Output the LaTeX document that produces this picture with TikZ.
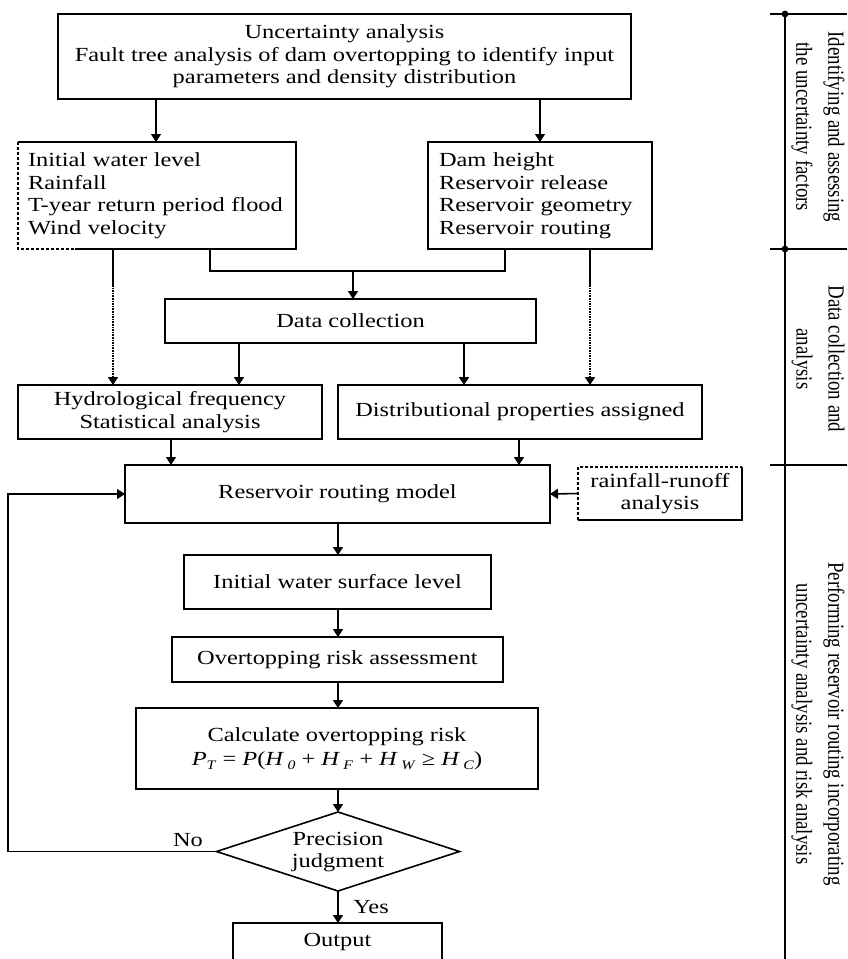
\documentclass[tikz,border=0pt]{standalone}
\usepackage{fontspec}
\setmainfont{Liberation Serif}[FakeStretch=1.22]
\newfontfamily\rotfont{Liberation Serif}[FakeStretch=0.82]
\usetikzlibrary{arrows.meta,calc}
\newcommand{\sbs}[1]{\raisebox{-4pt}{\fontsize{13}{13}\selectfont\textit{#1}}}
\begin{document}
\begin{tikzpicture}[x=1pt,y=-1pt,
  every node/.style={font=\fontsize{20}{22.5}\selectfont, inner sep=0pt, outer sep=0pt},
  box/.style={draw, line width=1.6pt, rectangle, align=center},
  nobox/.style={rectangle, align=center},
  ln/.style={line width=1.6pt},
  arr/.style={ln, -{Triangle[width=10pt,length=8pt]}},
  dotarr/.style={ln, densely dotted, -{Triangle[width=10pt,length=8pt]}},
  dsh/.style={ln, dash pattern=on 3pt off 2pt},
  rottext/.style={rotate=-90, align=center, font=\rotfont\fontsize{23}{32}\selectfont}
]
\useasboundingbox (0,0) rectangle (847,959);
\fill[white] (0,0) rectangle (847,959);
\clip (0,0) rectangle (847,959);

% ---------- nodes ----------
\node[box, minimum width=573, minimum height=85] (top) at (344.5,56.5)
  {Uncertainty analysis\\Fault tree analysis of dam overtopping to identify input\\parameters and density distribution};
\node[nobox, minimum width=278, minimum height=107, text width=258, align=left] (inl) at (157,195.5)
  {Initial water level\\Rainfall\\T-year return period flood\\Wind velocity};
\node[box, minimum width=224, minimum height=107, text width=202, align=left] (inr) at (540,195.5)
  {Dam height\\Reservoir release\\Reservoir geometry\\Reservoir routing};
\node[box, minimum width=371, minimum height=44] (dc) at (350.5,321) {Data collection};
\node[box, minimum width=304, minimum height=54] (hy) at (170,412)
  {Hydrological frequency\\Statistical analysis};
\node[box, minimum width=364, minimum height=54] (dp) at (520,412)
  {Distributional properties assigned};
\node[box, minimum width=425, minimum height=58] (rm) at (337.5,494) {Reservoir routing model};
\node[nobox, minimum width=164, minimum height=53] (rr) at (660,493.5) {rainfall-runoff\\analysis};
\node[box, minimum width=307, minimum height=54] (iw) at (337.5,582) {Initial water surface level};
\node[box, minimum width=331, minimum height=45] (ora) at (337.5,659.5) {Overtopping risk assessment};
\node[box, minimum width=402, minimum height=81] (calc) at (337,748.5)
  {Calculate overtopping risk\\[2pt]
   \textit{P}\sbs{T} = \textit{P}(\textit{H}\,\sbs{0} + \textit{H}\,\sbs{F} + \textit{H}\,\sbs{W} ≥ \textit{H}\,\sbs{C})};
% diamond
\coordinate (dN) at (338,812);
\coordinate (dS) at (338,891);
\coordinate (dW) at (216.5,851.5);
\coordinate (dE) at (459.5,851.5);
\draw[ln, line join=miter] (dN) -- (dE) -- (dS) -- (dW) -- cycle;
\node[nobox] (pj) at (338,852) {Precision\\judgment};
\node[box, minimum width=209, minimum height=38] (out) at (337.5,942) {Output};

% partially dashed borders
\draw[ln] ($(inl.south west)+(57,0)$) -- (inl.south east) -- (inl.north east) -- (inl.north west);
\draw[dsh] (inl.north west) -- (inl.south west) -- ($(inl.south west)+(57,0)$);
\draw[dsh] (rr.south west) -- (rr.north west) -- (rr.north east);
\draw[ln] (rr.north east) -- (rr.south east) -- (rr.south west);

% ---------- connectors ----------
\path (156,0) coordinate (x1) (540,0) coordinate (x2) (210,0) coordinate (x3)
      (505,0) coordinate (x4) (353,0) coordinate (x5) (113,0) coordinate (x6)
      (590,0) coordinate (x7) (239,0) coordinate (x8) (464,0) coordinate (x9)
      (171,0) coordinate (x10) (519,0) coordinate (x11) (338,0) coordinate (xc);
\coordinate (jl) at (210,271);
\coordinate (jr) at (505,271);
\coordinate (jm) at (353,271);
\coordinate (sl) at (113,285);
\coordinate (sr) at (590,285);
\coordinate (fb1) at (8,851.5);
\coordinate (fb2) at (8,494);

\draw[arr] (x1 |- top.south) -- (x1 |- inl.north);
\draw[arr] (x2 |- top.south) -- (x2 |- inr.north);
\draw[ln] (x3 |- inl.south) -- (jl) -- (jr) -- (x4 |- inr.south);
\draw[arr] (jm) -- (x5 |- dc.north);
\draw[ln] (x6 |- inl.south) -- (sl);
\draw[dotarr] (sl) -- (x6 |- hy.north);
\draw[ln] (x7 |- inr.south) -- (sr);
\draw[dotarr] (sr) -- (x7 |- dp.north);
\draw[arr] (x8 |- dc.south) -- (x8 |- hy.north);
\draw[arr] (x9 |- dc.south) -- (x9 |- dp.north);
\draw[arr] (x10 |- hy.south) -- (x10 |- rm.north);
\draw[arr] (x11 |- dp.south) -- (x11 |- rm.north);
\draw[arr] (rr.west) -- (rm.east);
\draw[arr] (xc |- rm.south) -- (xc |- iw.north);
\draw[arr] (xc |- iw.south) -- (xc |- ora.north);
\draw[arr] (xc |- ora.south) -- (xc |- calc.north);
\draw[arr] (xc |- calc.south) -- (dN);
\draw[arr] (dS) -- (xc |- out.north);
\draw[arr] (dW) -- (fb1) -- (fb2) -- (rm.west);
\node (no) at (188,840) {No};
\node (yes) at (371,907) {Yes};

% ---------- right panel ----------
\coordinate (p0) at (785,14);
\coordinate (p1) at (785,249);
\coordinate (p2) at (785,465);
\coordinate (p3) at (785,970);
\draw[ln] (p0) -- (p3);
\draw[ln] (770,14) -- (847,14);
\draw[ln] (770,249) -- (847,249);
\draw[ln] (770,465) -- (847,465);
\fill (p0) circle (3.4);
\fill (p1) circle (3.4);
\node[rottext] (s1) at (818,127) {Identifying and assessing\\the uncertainty factors};
\node[rottext] (s2) at (818,359) {Data collection and\\analysis};
\node[rottext] (s3) at (818,724) {Performing reservoir routing incorporating\\uncertainty analysis and risk analysis};
\end{tikzpicture}
\end{document}
